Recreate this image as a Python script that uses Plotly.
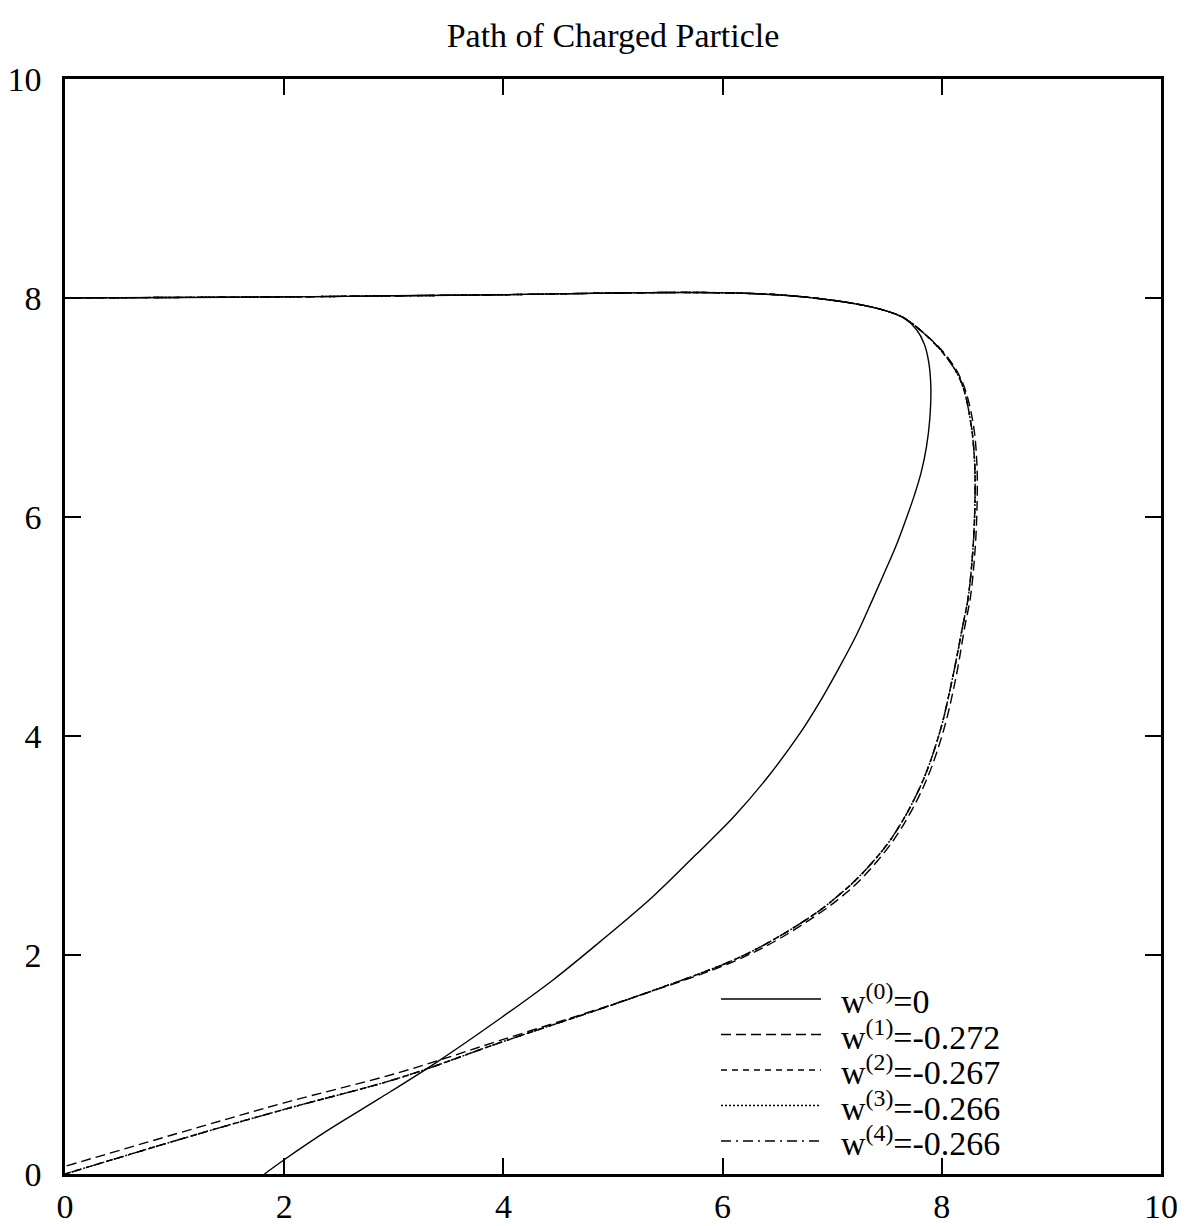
import plotly.graph_objects as go

# ---------------- data ----------------
x_w0 = [0.0, 1.0, 2.0, 3.0, 4.0, 5.0, 5.8, 6.5, 7.0, 7.3, 7.5, 7.65, 7.77, 7.84, 7.88, 7.90,
        7.89, 7.86, 7.81, 7.75, 7.67, 7.58, 7.48, 7.37, 7.22, 7.05, 6.88, 6.71, 6.40, 6.10,
        5.75, 5.36, 4.88, 4.45, 3.97, 3.39, 2.87, 2.40, 2.00, 1.82]
y_w0 = [8.00, 8.005, 8.01, 8.02, 8.03, 8.045, 8.05, 8.03, 7.98, 7.93, 7.88, 7.82, 7.71, 7.58,
        7.42, 7.19, 6.89, 6.64, 6.40, 6.20, 5.97, 5.73, 5.50, 5.25, 4.92, 4.60, 4.30, 4.03,
        3.61, 3.26, 2.91, 2.53, 2.12, 1.77, 1.42, 1.02, 0.69, 0.40, 0.13, 0.00]

x_w1 = [0.0, 1.0, 2.0, 3.0, 4.0, 5.0, 5.8, 6.5, 7.0, 7.3, 7.5, 7.65, 7.80, 8.02, 8.18, 8.28,
        8.32, 8.32, 8.30, 8.26, 8.21, 8.13, 8.01, 7.83, 7.56, 7.26, 7.07, 6.91, 6.52, 6.10,
        5.18, 3.97, 3.06, 2.00, 1.23, 0.0]
y_w1 = [8.00, 8.005, 8.01, 8.02, 8.03, 8.045, 8.05, 8.03, 7.98, 7.93, 7.88, 7.82, 7.71, 7.50,
        7.25, 6.89, 6.49, 6.04, 5.65, 5.26, 5.00, 4.54, 4.03, 3.53, 3.05, 2.69, 2.52, 2.40,
        2.15, 1.94, 1.61, 1.22, 0.93, 0.65, 0.43, 0.07]

x_w2 = [0.0, 1.0, 2.0, 3.0, 4.0, 5.0, 5.8, 6.5, 7.0, 7.3, 7.5, 7.65, 7.80, 8.01, 8.17, 8.26,
        8.30, 8.30, 8.28, 8.24, 8.19, 8.10, 7.98, 7.80, 7.53, 7.23, 7.04, 6.89, 6.50, 6.09,
        5.18, 3.97, 3.06, 2.00, 1.23, 0.0]
y_w2 = [8.00, 8.005, 8.01, 8.02, 8.03, 8.045, 8.05, 8.03, 7.98, 7.93, 7.88, 7.82, 7.71, 7.50,
        7.25, 6.89, 6.49, 6.04, 5.65, 5.26, 5.00, 4.54, 4.03, 3.53, 3.05, 2.70, 2.53, 2.41,
        2.16, 1.95, 1.61, 1.20, 0.88, 0.59, 0.37, 0.00]

x_w3 = list(x_w2)
y_w3 = list(y_w2)
x_w4 = list(x_w2)
y_w4 = list(y_w2)

series_labels = ["w<sup>(0)</sup>=0", "w<sup>(1)</sup>=-0.272", "w<sup>(2)</sup>=-0.267",
                 "w<sup>(3)</sup>=-0.266", "w<sup>(4)</sup>=-0.266"]
tick_vals = [0, 2, 4, 6, 8, 10]
tick_text = ["0", "2", "4", "6", "8", "10"]
title_text = "Path of Charged Particle"

# ---------------- styling ----------------
FONT = "Liberation Serif, Times New Roman, serif"
dashes = ["solid", "10px,5px", "6px,5px", "2px,2px", "10px,5px,2px,5px"]
xs = [x_w0, x_w1, x_w2, x_w3, x_w4]
ys = [y_w0, y_w1, y_w2, y_w3, y_w4]

fig = go.Figure()
for xv, yv, lab, d in zip(xs, ys, series_labels, dashes):
    fig.add_trace(go.Scatter(x=xv, y=yv, mode="lines", name=lab, showlegend=False,
                             line=dict(color="black", width=1.4, dash=d,
                                       shape="spline", smoothing=1.0)))

# the page body has an 8px margin: size the figure so the plot lands where the reference has it
OFF = 8
WIN_W, WIN_H = 1185, 1226
W, H = WIN_W - OFF, WIN_H - OFF
# plot box in window pixels (from the reference): x 65..1161, y 79..1174
ml = 65 - OFF
mt = 79 - OFF
mr = W - (1161 - OFF)
mb = H - (1174 - OFF)
pw, ph = W - ml - mr, H - mt - mb

def px_x(p):
    return (p - OFF - ml) / pw

def px_y(p):
    return (H - mb - (p - OFF)) / ph

# manual legend (long key lines, rows packed like the reference)
row0, step = 999, 35.5
for i, (lab, d) in enumerate(zip(series_labels, dashes)):
    yy = px_y(row0 + i * step)
    fig.add_shape(type="line", xref="paper", yref="paper",
                  x0=px_x(721), x1=px_x(821), y0=yy, y1=yy,
                  line=dict(color="black", width=1.4, dash=d))
    fig.add_annotation(xref="paper", yref="paper", x=px_x(840), y=yy,
                       xanchor="left", yanchor="middle", text=lab, showarrow=False,
                       borderpad=0,
                       font=dict(family=FONT, size=34, color="black"))

axis_common = dict(range=[0, 10], tickvals=tick_vals, ticktext=tick_text,
                   ticks="inside", ticklen=16, tickwidth=1.5, tickcolor="black",
                   showline=True, linewidth=2.5, linecolor="black", mirror="ticks",
                   showgrid=False, zeroline=False, automargin=False,
                   tickfont=dict(family=FONT, size=34, color="black"))

fig.update_layout(
    width=W, height=H,
    margin=dict(l=ml, r=mr, t=mt, b=mb, autoexpand=False),
    paper_bgcolor="white", plot_bgcolor="white",
    title=dict(text=title_text, x=0.5, xref="paper", xanchor="center",
               y=1 - (35 - OFF) / H, yref="container", yanchor="middle",
               font=dict(family=FONT, size=34, color="black")),
    xaxis=dict(**axis_common, ticklabelstandoff=0),
    yaxis=dict(**axis_common, ticklabelstandoff=14),
)

fig.write_html("out.html")
